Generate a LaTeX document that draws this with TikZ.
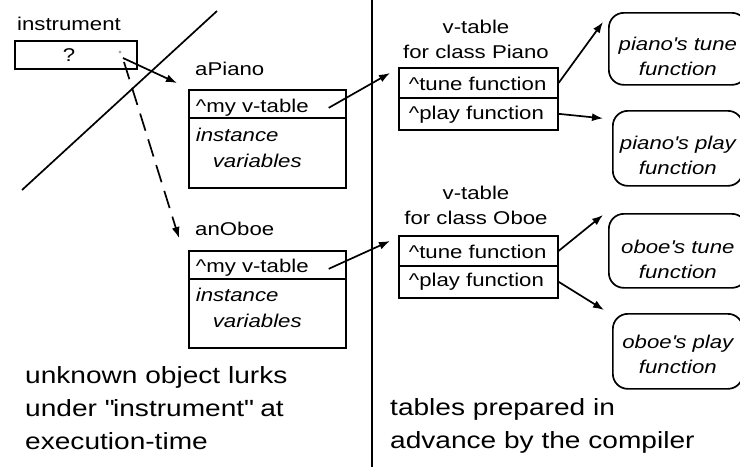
\documentclass[tikz,border=0pt]{standalone}
\usepackage{fontspec}
\setmainfont{Liberation Sans}[FakeStretch=1.2]
\usetikzlibrary{arrows.meta,calc}
\begin{document}
\begin{tikzpicture}[x=1pt,y=-1pt,
  lw/.style={line width=1.7pt},
  every node/.style={inner sep=0pt, font=\fontsize{18.5}{25}\selectfont},
  lbl/.style={anchor=base west},
  cell/.style={draw, lw, anchor=north west, align=left, inner xsep=7pt, inner ysep=0pt, text width=143pt},
  varcell/.style={cell, font=\itshape\fontsize{18.5}{25.5}\selectfont},
  vcell/.style={draw, lw, anchor=north west, align=left, inner xsep=10pt, inner ysep=0pt, text width=139pt},
  fbox/.style={draw, lw, rounded corners=15pt, anchor=north west, align=center, inner xsep=4pt, inner ysep=0pt, font=\itshape\fontsize{18.5}{25}\selectfont},
  ptr/.style={lw, -{Latex[length=11pt,width=8pt]}},
  bigtext/.style={anchor=base west, align=left, text width=340pt, font=\fontsize{23.4}{33}\selectfont},
]
\useasboundingbox (0,0) rectangle (740,467);

% dividing lines
\coordinate (diagA) at (22,190);
\coordinate (diagB) at (217,11);
\coordinate (vtop) at (372,0);
\coordinate (vbot) at (372,467);
\draw[lw] (diagA) -- (diagB);
\draw[lw] (vtop) -- (vbot);

% instrument
\node[lbl] (instlbl) at (17,30) {instrument};
\node[draw, lw, anchor=north west, align=left, text width=26pt, inner xsep=48pt, inner ysep=0pt, text height=21pt, text depth=7pt] (inst) at (14,40) {?};
\coordinate (instdot) at (120,52);
\fill[black!35] (instdot) circle[radius=1.6pt];

% aPiano object
\node[lbl] (apiano) at (195,75) {aPiano};
\node[cell, text height=22.5pt, text depth=5.5pt] (pmy) at (188,89) {\textasciicircum my v-table};
\node[varcell, text height=24pt, text depth=46pt] (pvar) at (188,117) {instance\\\hspace*{17pt}variables};

% anOboe object
\node[lbl] (anoboe) at (195,235) {anOboe};
\node[cell, text height=22pt, text depth=6pt] (omy) at (188,250) {\textasciicircum my v-table};
\node[varcell, text height=23pt, text depth=46pt] (ovar) at (188,278) {instance\\\hspace*{17pt}variables};

% v-tables
\node[anchor=base, align=center, text width=170pt] (pvlbl) at (476,33) {v-table\\for class Piano};
\node[vcell, text height=23pt, text depth=7pt] (ptune) at (398,67) {\textasciicircum tune function};
\node[vcell, text height=21.5pt, text depth=10.5pt] (pplay) at (398,97) {\textasciicircum play function};

\node[anchor=base, align=center, text width=170pt] (ovlbl) at (476,199) {v-table\\for class Oboe};
\node[vcell, text height=23pt, text depth=7pt] (otune) at (398,235) {\textasciicircum tune function};
\node[vcell, text height=21pt, text depth=11pt] (oplay) at (398,265) {\textasciicircum play function};

% functions
\node[fbox, text width=130pt, text height=38pt, text depth=34pt] (fpt) at (608,12) {piano\textquotesingle s tune\\function};
\node[fbox, text width=122pt, text height=39pt, text depth=36pt] (fpp) at (612,110) {piano\textquotesingle s play\\function};
\node[fbox, text width=130pt, text height=40pt, text depth=34pt] (fot) at (608,213) {oboe\textquotesingle s tune\\function};
\node[fbox, text width=122pt, text height=35pt, text depth=40pt] (fop) at (612,313) {oboe\textquotesingle s play\\function};

% pointer from instrument
\coordinate (instptr) at (123,58);
\coordinate (instptrb) at (124,62);
\coordinate (pianoref) at (177,83);
\coordinate (oboeref) at (179,238);
\draw[ptr] (instptr) -- (pianoref);
\draw[ptr, dash pattern=on 18pt off 9pt] (instptrb) -- (oboeref);

% v-table pointers
\draw[ptr] ($(pmy.east)+(-18,4)$) -- ($(ptune.north west)+(-8,6)$);
\draw[ptr] ($(omy.east)+(-18,4)$) -- ($(otune.north west)+(-8,6)$);

% function pointers
\draw[ptr] (ptune.east) -- ($(fpt.north west)+(-5,10)$);
\draw[ptr] (pplay.east) -- ($(fpp.west)+(-9,-30)$);
\draw[ptr] (otune.east) -- ($(fot.north west)+(-5,2)$);
\draw[ptr] (oplay.east) -- ($(fop.north west)+(-8,-3)$);

% captions
\node[bigtext] (leftcap) at (25,383) {unknown object lurks\\under \textquotedbl instrument\textquotedbl{} at\\execution-time};
\node[bigtext] (rightcap) at (390,415) {tables prepared in\\advance by the compiler};
\end{tikzpicture}
\end{document}
